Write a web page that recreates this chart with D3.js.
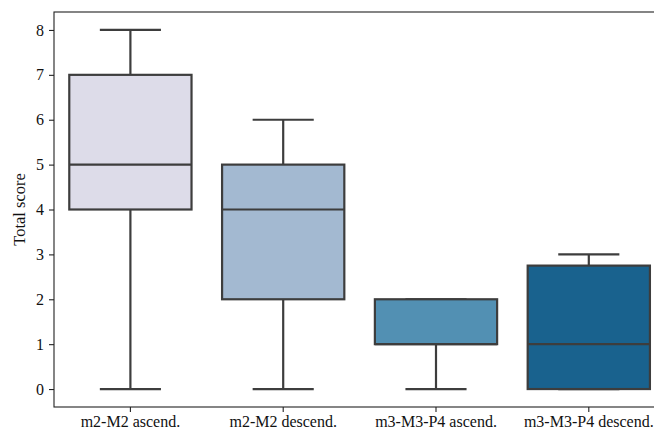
<!DOCTYPE html>
<html>
<head>
<meta charset="utf-8">
<script src="https://cdn.jsdelivr.net/npm/d3@7"></script>
<style>
  html, body { margin: 0; padding: 0; background: #fff; overflow: hidden; }
  svg { display: block; }
</style>
</head>
<body>
<script>
const categories = ["m2-M2 ascend.", "m2-M2 descend.", "m3-M3-P4 ascend.", "m3-M3-P4 descend."];
const whiskerLow = [0, 0, 0, 0];
const q1 = [4, 2, 1, 0];
const median = [5, 4, 1, 1];
const q3 = [7, 5, 2, 2.75];
const whiskerHigh = [8, 6, 2, 3];
const colors = ["#dddce9", "#a3b9d1", "#5290b3", "#19628e"];
const yTicks = [0, 1, 2, 3, 4, 5, 6, 7, 8];

const W = 654, H = 432;
const margin = { left: 54, right: -11.2, top: 12, bottom: 25 };
const svg = d3.select("body").append("svg").attr("width", W).attr("height", H);

const x = d3.scaleBand().domain(categories).range([margin.left, W - margin.right]).paddingInner(0).paddingOuter(0);
const y = d3.scaleLinear().domain([-0.4, 8.4]).range([H - margin.bottom, margin.top]);

const font = "'Liberation Serif', 'Times New Roman', serif";
const lineColor = "#3d3d3d";
const lw = 2.2;

const data = categories.map((c, i) => ({
  c, lo: whiskerLow[i], q1: q1[i], med: median[i], q3: q3[i], hi: whiskerHigh[i], color: colors[i]
}));

const bw = x.bandwidth() * 0.8;
const g = svg.append("g");
data.forEach(d => {
  const cx = x(d.c) + x.bandwidth() / 2;
  const gg = g.append("g");
  gg.append("line").attr("x1", cx).attr("x2", cx).attr("y1", y(d.q1)).attr("y2", y(d.lo))
    .attr("stroke", lineColor).attr("stroke-width", lw);
  gg.append("line").attr("x1", cx).attr("x2", cx).attr("y1", y(d.q3)).attr("y2", y(d.hi))
    .attr("stroke", lineColor).attr("stroke-width", lw);
  [d.lo, d.hi].forEach(v => {
    gg.append("line").attr("x1", cx - bw / 4).attr("x2", cx + bw / 4).attr("y1", y(v)).attr("y2", y(v))
      .attr("stroke", lineColor).attr("stroke-width", lw);
  });
  gg.append("rect").attr("x", cx - bw / 2).attr("width", bw)
    .attr("y", y(d.q3)).attr("height", y(d.q1) - y(d.q3))
    .attr("fill", d.color).attr("stroke", lineColor).attr("stroke-width", lw);
  gg.append("line").attr("x1", cx - bw / 2).attr("x2", cx + bw / 2).attr("y1", y(d.med)).attr("y2", y(d.med))
    .attr("stroke", lineColor).attr("stroke-width", lw);
});

const xAxis = svg.append("g").attr("transform", `translate(0,${H - margin.bottom})`)
  .call(d3.axisBottom(x).tickSize(5).tickPadding(4).tickSizeOuter(0));
const yAxis = svg.append("g").attr("transform", `translate(${margin.left},0)`)
  .call(d3.axisLeft(y).tickValues(yTicks).tickFormat(d3.format("d")).tickSize(5).tickPadding(5).tickSizeOuter(0));
[xAxis, yAxis].forEach(a => {
  a.selectAll("text").attr("font-family", font).attr("font-size", 16).attr("fill", "#111");
  a.selectAll("line").attr("stroke", "#222").attr("stroke-width", 1.1);
  a.select(".domain").remove();
});

svg.append("rect").attr("x", margin.left).attr("y", margin.top)
  .attr("width", W - margin.left - margin.right).attr("height", H - margin.top - margin.bottom)
  .attr("fill", "none").attr("stroke", "#222").attr("stroke-width", 1.1);

svg.append("text")
  .attr("transform", `translate(25,${(margin.top + H - margin.bottom) / 2}) rotate(-90)`)
  .attr("text-anchor", "middle")
  .attr("font-family", font).attr("font-size", 16.5).attr("fill", "#111")
  .text("Total score");
</script>
</body>
</html>
